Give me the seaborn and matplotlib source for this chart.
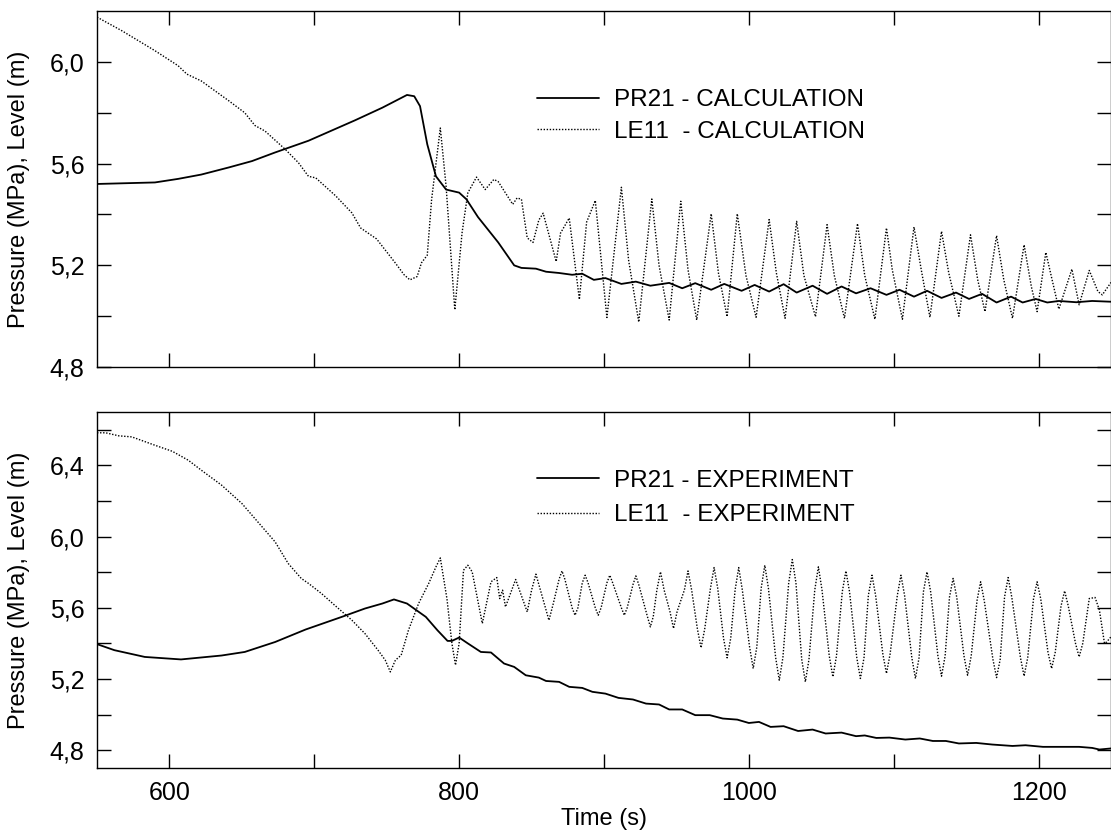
import matplotlib
matplotlib.use('Agg')
import matplotlib.pyplot as plt
from matplotlib.ticker import FixedLocator, FuncFormatter
import seaborn as sns

# values (time in s, pressure MPa / level m)
t_pr21_calc = [550, 590, 606, 622, 641, 657, 673, 691, 696, 712, 728, 747, 764, 769, 773, 778, 784, 791,
               800, 805, 813, 827, 838, 843, 853, 860, 869, 878, 885, 893, 901, 912, 922, 932, 945, 954,
               963, 974, 983, 995, 1004, 1014, 1024, 1033, 1044, 1054, 1064, 1074, 1084, 1095, 1104, 1114,
               1123, 1133, 1143, 1152, 1161, 1171, 1181, 1189, 1198, 1206, 1214, 1226, 1237, 1250]
pr21_calc = [5.52, 5.526, 5.54, 5.557, 5.585, 5.61, 5.644, 5.68, 5.69, 5.73, 5.77, 5.82, 5.87, 5.865, 5.826,
             5.676, 5.55, 5.498, 5.486, 5.46, 5.39, 5.29, 5.2, 5.19, 5.187, 5.175, 5.17, 5.163, 5.167, 5.143,
             5.15, 5.127, 5.136, 5.12, 5.131, 5.11, 5.13, 5.104, 5.127, 5.1, 5.123, 5.097, 5.126, 5.093, 5.12,
             5.088, 5.117, 5.09, 5.11, 5.084, 5.104, 5.077, 5.1, 5.072, 5.093, 5.068, 5.088, 5.054, 5.077,
             5.054, 5.068, 5.054, 5.06, 5.055, 5.06, 5.057]

t_le11_calc = [550, 567, 590, 606, 612, 622, 641, 652, 659, 666, 680, 689, 696, 701, 715, 726, 732, 743,
               756, 762, 766, 771, 774, 778, 781, 787, 791, 797, 802, 806, 812, 818, 824, 827, 837, 840,
               843, 847, 851, 855, 858, 867, 870, 876, 883, 888, 894, 902, 912, 917, 924, 933, 938, 945,
               953, 958, 964, 974, 979, 985, 992, 998, 1005, 1014, 1019, 1025, 1033, 1038, 1046, 1054,
               1059, 1066, 1075, 1080, 1087, 1095, 1099, 1106, 1114, 1119, 1125, 1133, 1138, 1145, 1153,
               1158, 1163, 1171, 1176, 1182, 1190, 1195, 1199, 1205, 1214, 1223, 1228, 1235, 1241, 1244, 1250]
le11_calc = [6.176, 6.123, 6.044, 5.985, 5.952, 5.925, 5.847, 5.8, 5.75, 5.728, 5.656, 5.604, 5.55, 5.544,
             5.472, 5.406, 5.347, 5.304, 5.209, 5.163, 5.143, 5.156, 5.21, 5.24, 5.459, 5.74, 5.511, 5.025,
             5.327, 5.485, 5.547, 5.498, 5.538, 5.529, 5.44, 5.465, 5.46, 5.308, 5.29, 5.378, 5.405, 5.215,
             5.327, 5.386, 5.066, 5.37, 5.455, 4.995, 5.507, 5.22, 4.977, 5.461, 5.2, 4.985, 5.452, 5.183,
             4.985, 5.403, 5.17, 4.998, 5.403, 5.16, 4.996, 5.38, 5.17, 4.992, 5.373, 5.16, 4.998, 5.36,
             5.16, 4.992, 5.364, 5.16, 4.988, 5.347, 5.183, 4.988, 5.351, 5.183, 4.996, 5.334, 5.17, 5.0,
             5.32, 5.143, 5.018, 5.317, 5.143, 4.992, 5.281, 5.117, 5.018, 5.251, 5.028, 5.185, 5.045,
             5.18, 5.097, 5.084, 5.133]

t_pr21_exp = [550, 562, 583, 608, 636, 652, 673, 694, 719, 735, 747, 755, 764, 777, 785, 792, 795, 800,
              806, 815, 822, 831, 838, 846, 855, 860, 869, 876, 885, 892, 901, 910, 920, 929, 938, 945,
              954, 963, 973, 982, 992, 1000, 1007, 1015, 1024, 1034, 1044, 1053, 1064, 1074, 1080, 1088,
              1097, 1108, 1118, 1127, 1136, 1145, 1157, 1168, 1182, 1191, 1203, 1214, 1228, 1237, 1242, 1250]
pr21_exp = [5.396, 5.362, 5.324, 5.31, 5.332, 5.352, 5.408, 5.478, 5.549, 5.596, 5.624, 5.647, 5.624,
            5.549, 5.474, 5.414, 5.414, 5.433, 5.4, 5.352, 5.349, 5.287, 5.268, 5.221, 5.208, 5.189, 5.184,
            5.156, 5.15, 5.128, 5.118, 5.094, 5.085, 5.062, 5.057, 5.029, 5.029, 4.997, 4.997, 4.978, 4.972,
            4.953, 4.959, 4.931, 4.935, 4.908, 4.916, 4.894, 4.899, 4.879, 4.883, 4.869, 4.871, 4.86, 4.866,
            4.852, 4.852, 4.838, 4.841, 4.832, 4.824, 4.828, 4.819, 4.819, 4.819, 4.813, 4.804, 4.81]

t_le11_exp = [550, 556, 565, 574, 590, 602, 613, 622, 636, 650, 663, 673, 682, 691, 696, 705, 714, 726,
              735, 744, 749, 752.5, 756, 760, 765, 772, 779, 784, 787, 791.6, 795, 797.5, 800, 803, 806,
              809, 816, 822, 826, 828, 830, 832, 839, 847, 850, 853, 862, 865,
              869, 871, 873, 878, 880, 882, 885, 887, 889, 894, 896, 898, 902, 904, 906, 912, 914, 916,
              920, 922, 924, 930, 932, 934, 936.5, 939, 941.5, 945.5, 948, 950.5, 955.5, 958, 960.5,
              964.5, 967, 969.5, 973.5, 976, 978.5, 982.5, 985, 987.5, 990.5, 993, 995.5, 1000.5, 1003,
              1005.5, 1008.5, 1011, 1013.5, 1018.5, 1021, 1023.5, 1027.5, 1030, 1032.5, 1036.5, 1039,
              1041.5, 1045.5, 1048, 1050.5, 1055.5, 1058, 1060.5, 1064.5, 1067, 1069.5, 1074.5, 1077,
              1079.5, 1082.5, 1085, 1087.5, 1092.5, 1095, 1097.5, 1102.5, 1105, 1107.5, 1112.5, 1115,
              1117.5, 1120.5, 1123, 1125.5, 1130.5, 1133, 1135.5, 1138.5, 1141, 1143.5, 1148.5, 1151,
              1153.5, 1157.5, 1160, 1162.5, 1168.5, 1171, 1173.5, 1176.5, 1179, 1181.5, 1187.5, 1190,
              1192.5, 1196.5, 1199, 1201.5, 1206.5, 1209, 1211.5, 1215.5, 1218, 1220.5, 1225.5, 1228,
              1230.5, 1235, 1239, 1242, 1245.5, 1247, 1250]
le11_exp = [6.583, 6.583, 6.566, 6.56, 6.513, 6.479, 6.429, 6.373, 6.289, 6.186, 6.064, 5.97, 5.849, 5.765,
            5.737, 5.68, 5.615, 5.53, 5.455, 5.362, 5.306, 5.24, 5.306, 5.334, 5.474, 5.624, 5.737, 5.83,
            5.88, 5.65, 5.4, 5.278, 5.4, 5.811, 5.839, 5.802, 5.512, 5.746, 5.77, 5.652, 5.699, 5.605,
            5.759, 5.577, 5.699, 5.789, 5.53, 5.624,
            5.76, 5.807, 5.76, 5.6, 5.558, 5.6, 5.74, 5.783, 5.74, 5.6, 5.558, 5.6, 5.74, 5.783, 5.74,
            5.6, 5.558, 5.6, 5.73, 5.779, 5.73, 5.55, 5.493, 5.55, 5.70, 5.802, 5.70, 5.58, 5.484, 5.58,
            5.70, 5.807, 5.70, 5.48, 5.375, 5.48, 5.71, 5.826, 5.71, 5.43, 5.319, 5.43, 5.70, 5.826, 5.70,
            5.38, 5.259, 5.38, 5.71, 5.839, 5.71, 5.32, 5.193, 5.32, 5.74, 5.871, 5.74, 5.31, 5.184, 5.31,
            5.70, 5.83, 5.70, 5.33, 5.212, 5.33, 5.69, 5.807, 5.69, 5.32, 5.203, 5.32, 5.67, 5.783, 5.67,
            5.34, 5.231, 5.34, 5.67, 5.783, 5.67, 5.32, 5.203, 5.32, 5.69, 5.802, 5.69, 5.33, 5.216, 5.33,
            5.66, 5.765, 5.66, 5.33, 5.221, 5.33, 5.64, 5.746, 5.64, 5.31, 5.208, 5.31, 5.66, 5.77, 5.66,
            5.32, 5.216, 5.32, 5.65, 5.746, 5.65, 5.35, 5.259, 5.35, 5.61, 5.695, 5.61, 5.40, 5.324, 5.40,
            5.652, 5.658, 5.587, 5.4, 5.408, 5.437]

labels_calc = ['PR21 - CALCULATION', 'LE11  - CALCULATION']
labels_exp = ['PR21 - EXPERIMENT', 'LE11  - EXPERIMENT']

sns.set_style('ticks', {'axes.edgecolor': 'black', 'xtick.color': 'black', 'ytick.color': 'black',
                        'text.color': 'black', 'axes.labelcolor': 'black'})
plt.rcParams['font.family'] = ['Liberation Sans', 'DejaVu Sans']
plt.rcParams['font.size'] = 17

fig, (ax1, ax2) = plt.subplots(2, 1, figsize=(11.11, 8.35), dpi=100, sharex=True)
fig.subplots_adjust(left=0.0873, right=1.0, top=0.9868, bottom=0.0802, hspace=0.126)

dots = (0, (1, 1.2))
sns.lineplot(x=t_pr21_calc, y=pr21_calc, ax=ax1, color='black', lw=1.3, label=labels_calc[0],
             estimator=None, sort=False)
sns.lineplot(x=t_le11_calc, y=le11_calc, ax=ax1, color='black', lw=1.0, ls=dots, label=labels_calc[1],
             estimator=None, sort=False)
sns.lineplot(x=t_pr21_exp, y=pr21_exp, ax=ax2, color='black', lw=1.3, label=labels_exp[0],
             estimator=None, sort=False)
sns.lineplot(x=t_le11_exp, y=le11_exp, ax=ax2, color='black', lw=1.0, ls=dots, label=labels_exp[1],
             estimator=None, sort=False)

comma = FuncFormatter(lambda v, p: f'{v:.1f}'.replace('.', ','))

ax1.set_ylim(4.8, 6.2)
ax1.yaxis.set_major_locator(FixedLocator([4.8, 5.2, 5.6, 6.0]))
ax1.yaxis.set_minor_locator(FixedLocator([5.0, 5.4, 5.8]))
ax2.set_ylim(4.7, 6.7)
ax2.yaxis.set_major_locator(FixedLocator([4.8, 5.2, 5.6, 6.0, 6.4]))
ax2.yaxis.set_minor_locator(FixedLocator([5.0, 5.4, 5.8, 6.2, 6.6]))

for ax, leg_y, spacing in ((ax1, 0.781, 0.40), (ax2, 0.838, 0.52)):
    ax.set_xlim(550, 1250)
    ax.xaxis.set_major_locator(FixedLocator([600, 800, 1000, 1200]))
    ax.xaxis.set_minor_locator(FixedLocator([700, 900, 1100]))
    ax.yaxis.set_major_formatter(comma)
    ax.tick_params(which='both', direction='in', length=10, width=1.0, top=True, right=True,
                   labelsize=18, pad=9)
    for s in ax.spines.values():
        s.set_linewidth(1.0)
        s.set_visible(True)
    ax.set_ylabel('Pressure (MPa), Level (m)', fontsize=17)
    ax.yaxis.set_label_coords(-0.066, 0.5)
    ax.legend(loc='upper left', bbox_to_anchor=(0.434, leg_y), frameon=False, borderpad=0,
              borderaxespad=0, handlelength=2.55, handletextpad=0.6, labelspacing=spacing,
              fontsize=17.5)

ax1.tick_params(labelbottom=False)
ax1.set_xlabel('')
ax2.set_xlabel('Time (s)', fontsize=17)
ax2.xaxis.set_label_coords(0.5, -0.112)

fig.savefig('out.png', dpi=100)
